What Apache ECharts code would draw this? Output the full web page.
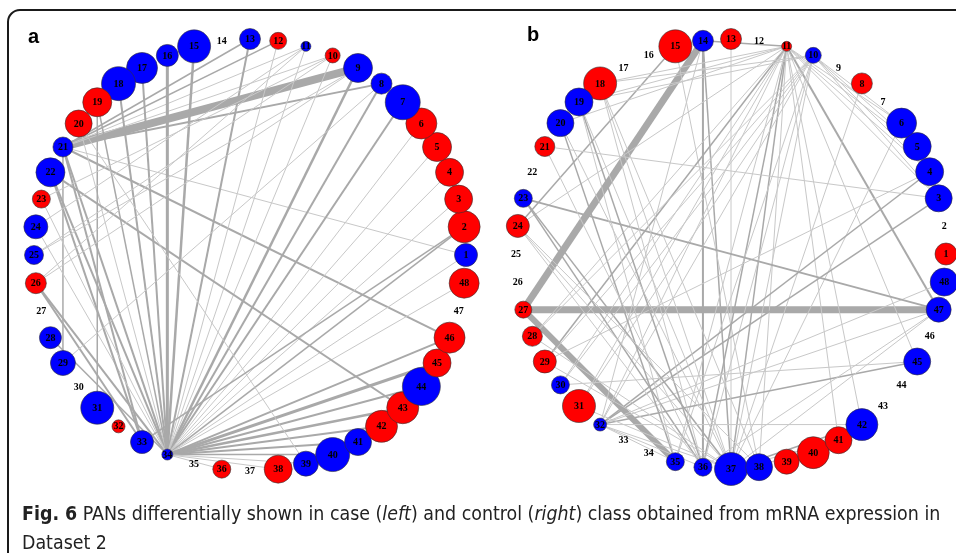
<!DOCTYPE html>
<html><head><meta charset="utf-8">
<script src="https://cdn.jsdelivr.net/npm/echarts@6/dist/echarts.min.js"></script>
<style>html,body{margin:0;padding:0;background:#fff}#c{width:956px;height:553px}</style>
</head><body><div id="c"></div>
<script>
// Node labels 1..48 around each circle
const nodeIds = Array.from({length: 48}, (_, i) => String(i + 1));

// Panel a (case): node weights (read as drawn node diameter), class ('R' up, 'B' down, '' absent)
const weightA = [23,32,28,28,29,31,35,21,29,15,10,17,21,0,33,22,31,34,29,27,20,29,18,24,19,21,0,22,25,0,33,13,23,11,0,18,0,28,25,34,27,32,32,38,28,31,0,30];
const classA = ['B','R','R','R','R','R','B','B','B','R','B','R','B','','B','B','B','B','R','R','B','B','R','B','B','R','','B','B','','B','R','B','B','','R','','R','B','B','B','R','R','B','R','R','','R'];

// Panel b (control)
const weightB = [22,0,27,28,28,30,0,21,0,16,10,0,21,21,33,0,0,33,28,27,20,0,18,23,0,0,17,20,23,18,33,13,0,0,18,18,33,27,25,32,27,32,0,0,27,0,25,28];
const classB = ['R','','B','B','B','B','','R','','B','R','','R','B','R','','','R','B','B','R','','B','R','','','R','R','R','B','R','B','','','B','B','B','B','R','R','R','B','','','B','','B','B'];

// Edges: [source, target, weight]
const edgesA = [
  [21,9,8],[21,8,2],[21,12,1.5],[21,13,1.5],[21,10,1],[21,11,1],[21,1,1],[21,46,2],[21,34,2],[21,33,2],[21,29,1.5],
  [34,15,2.5],[34,16,3],[34,17,2],[34,18,2],[34,13,2],[34,9,2.5],[34,8,2],[34,7,2],[34,6,1],[34,5,1],[34,4,1],[34,3,1],
  [34,2,1.5],[34,1,1],[34,48,1],[34,46,2],[34,45,3],[34,44,2],[34,43,2.5],[34,42,2],[34,41,2],[34,40,1.5],[34,39,1],
  [34,38,1],[34,36,1],[34,22,2],[34,26,2],[34,28,1.5],[34,23,1],[34,24,1],[34,20,1],[34,19,1.5],[34,12,1],[34,11,1],[34,10,1],
  [33,22,2],[33,26,2],[22,43,2],[31,19,1.5],[25,10,1],[24,11,1],[26,9,1],[25,9,1],[29,8,1],[26,11,1],[23,10,1],[20,39,1],[2,33,1.5]
];
const edgesB = [
  [14,27,7],[27,47,7],[27,35,6],
  [14,11,1.5],[14,36,2],[14,37,1.5],[14,32,1],[13,37,1],[15,24,1.5],[15,38,1],
  [11,36,1.5],[11,35,1],[11,37,1.5],[11,38,1],[11,41,1],[11,42,1],[11,47,2],[11,45,1],[11,32,1],[11,31,1],[11,30,1],
  [11,29,1.5],[11,28,1],[11,24,1],[11,20,1],[11,19,1],[11,18,1],[11,3,1],[11,4,1],[11,5,1],[11,6,1],
  [10,3,1],[10,4,1],[10,5,1],[10,6,1],[10,37,1],[10,36,1],[10,35,1],[10,32,1],[10,18,1],[10,19,1],[10,29,1],[10,31,1],
  [8,37,1],[6,37,1],[4,32,1.5],[3,32,1.5],[4,29,1],[48,32,1],[45,32,1.5],[45,30,1],[47,32,1],[23,47,2],[23,37,1.5],
  [23,36,1.5],[24,36,1],[24,37,1],[19,36,1.5],[19,37,1],[20,35,1.5],[20,37,1],[18,36,1],[18,38,1],[21,3,1],[21,36,1],
  [28,37,1],[29,37,1],[31,37,1],[32,37,1],[32,36,1],[32,35,1],[32,42,1],[37,42,1.5],[38,42,1],[41,37,1],[36,47,1],
  [37,47,1],[38,24,1],[35,19,1],[37,18,1],[30,10,1],[28,10,1]
];

const COLORS = {R: '#ff0000', B: '#0000ff'};

function nodeSeries(polarIndex, weights, classes) {
  return {
    type: 'scatter', coordinateSystem: 'polar', polarIndex, z: 3, silent: true,
    data: nodeIds.map((id, i) => {
      const present = classes[i] !== '';
      return {
        name: id, value: [1, i],
        symbolSize: present ? weights[i] : 0,
        itemStyle: present ? {color: COLORS[classes[i]], borderColor: '#333', borderWidth: 0.6, opacity: 1}
                           : {color: 'rgba(0,0,0,0)', borderWidth: 0},
        label: {show: false}
      };
    })
  };
}
function labelSeries(polarIndex) {
  return {
    type: 'custom', coordinateSystem: 'polar', polarIndex, z: 5, silent: true,
    dimensions: ['r', 'a'],
    encode: {radius: 0, angle: 1},
    data: nodeIds.map((id, i) => [1, i]),
    renderItem: (params, api) => {
      const p = api.coord([1, api.value(1)]);
      return {type: 'text', x: p[0], y: p[1] + 0.5,
        style: {text: nodeIds[params.dataIndex], fill: '#000', align: 'center', verticalAlign: 'middle',
          font: 'bold 10px "Liberation Serif", "Times New Roman", serif'}};
    }
  };
}
function edgeSeries(polarIndex, edges) {
  return {
    type: 'custom', coordinateSystem: 'polar', polarIndex, z: 1, silent: true,
    dimensions: ['r', 's', 't', 'w'],
    encode: {radius: 0, angle: [1, 2]},
    data: edges.map(e => [1, e[0] - 1, e[1] - 1, e[2]]),
    renderItem: (params, api) => {
      const p1 = api.coord([1, api.value(1)]);
      const p2 = api.coord([1, api.value(2)]);
      const w = api.value(3);
      return {type: 'line', shape: {x1: p1[0], y1: p1[1], x2: p2[0], y2: p2[1]},
        style: {stroke: w >= 1.5 ? '#a9a9a9' : '#c8c8c8', lineWidth: w, fill: null}};
    }
  };
}
const angleAxisBase = {type: 'value', min: 0, max: 48, startAngle: 0, clockwise: false, show: false,
  axisLine: {show: false}, splitLine: {show: false}, axisLabel: {show: false}, axisTick: {show: false}};
const radiusAxisBase = {type: 'value', min: 0, max: 1, show: false,
  axisLine: {show: false}, splitLine: {show: false}, axisLabel: {show: false}, axisTick: {show: false}};

const capFont = '"Liberation Sans Narrow", "DejaVu Sans Condensed", "Open Sans", sans-serif';
const chart = echarts.init(document.getElementById('c'), null, {renderer: 'canvas'});
chart.setOption({
  animation: false,
  backgroundColor: '#fff',
  polar: [{center: [250, 255], radius: 216}, {center: [731, 254], radius: 215}],
  angleAxis: [{...angleAxisBase, polarIndex: 0}, {...angleAxisBase, polarIndex: 1}],
  radiusAxis: [{...radiusAxisBase, polarIndex: 0}, {...radiusAxisBase, polarIndex: 1}],
  series: [edgeSeries(0, edgesA), edgeSeries(1, edgesB), nodeSeries(0, weightA, classA), nodeSeries(1, weightB, classB),
    labelSeries(0), labelSeries(1)],
  graphic: [
    {type: 'rect', z: 0, silent: true, shape: {x: 8, y: 10, width: 1000, height: 600, r: 12},
      style: {fill: null, stroke: '#1a1a1a', lineWidth: 2}},
    {type: 'text', silent: true, x: 28, y: 27, style: {text: 'a', font: 'bold 20px "Liberation Sans", Arial, sans-serif', fill: '#000'}},
    {type: 'text', silent: true, x: 527, y: 25, style: {text: 'b', font: 'bold 20px "Liberation Sans", Arial, sans-serif', fill: '#000'}},
    {type: 'text', silent: true, x: 22, y: 500, style: {
      text: '{b|Fig. 6} PANs differentially shown in case ({i|left}) and control ({i|right}) class obtained from mRNA expression in\nDataset 2',
      font: '19.4px ' + capFont, fill: '#222', lineHeight: 29,
      rich: {
        b: {fontWeight: 'bold', fontSize: 19.4, fontFamily: capFont, fill: '#222'},
        i: {fontStyle: 'italic', fontSize: 19.4, fontFamily: capFont, fill: '#222'}
      }
    }}
  ]
});
</script></body></html>
